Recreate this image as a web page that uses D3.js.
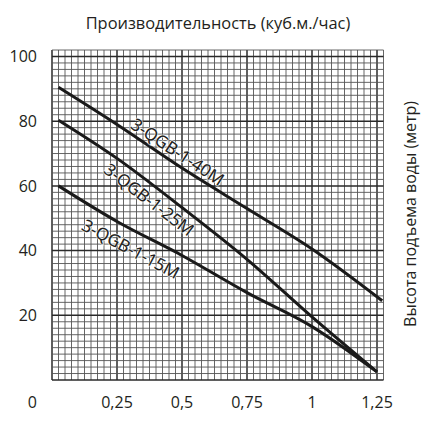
<!DOCTYPE html>
<html lang="ru">

<head>
    <meta charset="UTF-8">
    <title>QGB</title>
    <script src="https://cdn.jsdelivr.net/npm/d3@7"></script>
    <style>
        body {
            margin: 0;
            background: #fff;
        }

        text {
            font-family: "Open Sans", sans-serif;
            fill: #231f20;
        }
    </style>
</head>

<body>
    <script>
        // flow, m3/h
        const flow = [0.025, 0.25, 0.5, 0.75, 1, 1.25];
        const flow40 = [0.025, 0.25, 0.5, 0.75, 1, 1.27];
        // head, m
        const head40M = [90.5, 79, 65.5, 53, 40.5, 24.5];
        const head25M = [80.3, 68.5, 53.3, 37.3, 19.5, 2.5];
        const head15M = [60, 49, 38.5, 27, 16.5, 2.5];
        const seriesNames = ["3-QGB-1-40M", "3-QGB-1-25M", "3-QGB-1-15M"];

        const xTicks = [0.25, 0.5, 0.75, 1, 1.25];
        const yTicks = [20, 40, 60, 80, 100];
        const xTitle = "Производительность (куб.м./час)";
        const yTitle = "Высота подъема воды (метр)";

        const width = 440;
        const height = 440;

        const x = d3.scaleLinear().domain([0, 1.275]).range([52, 383.5]);
        const y = d3.scaleLinear().domain([0, 102]).range([380, 50]);

        const svg = d3.select("body").append("svg")
            .attr("width", width).attr("height", height);

        // grid: minor every 0.025 / 2 m, major every 0.25 / 20 m
        const grid = svg.append("g");
        const xIdx = d3.range(0, 52);
        const yIdx = d3.range(0, 52);

        grid.selectAll(".gx")
            .data(xIdx)
            .join("line")
            .attr("x1", i => x(i * 0.025)).attr("x2", i => x(i * 0.025))
            .attr("y1", y(102)).attr("y2", y(0))
            .attr("stroke", i => i % 10 === 0 ? "#2a2a2a" : "#555")
            .attr("stroke-width", i => i % 10 === 0 ? 1.5 : 0.9);

        grid.selectAll(".gy")
            .data(yIdx)
            .join("line")
            .attr("y1", i => y(i * 2)).attr("y2", i => y(i * 2))
            .attr("x1", x(0)).attr("x2", x(1.275))
            .attr("stroke", i => i % 10 === 0 ? "#2a2a2a" : "#555")
            .attr("stroke-width", i => i % 10 === 0 ? 1.5 : 0.9);

        // curves
        const series = [
            { name: seriesNames[0], xs: flow40, ys: head40M },
            { name: seriesNames[1], xs: flow, ys: head25M },
            { name: seriesNames[2], xs: flow, ys: head15M },
        ].map(s => ({ ...s, pts: s.xs.map((v, i) => [v, s.ys[i]]) }));

        const line = d3.line()
            .x(d => x(d[0]))
            .y(d => y(d[1]))
            .curve(d3.curveMonotoneX);

        svg.append("g")
            .selectAll("path")
            .data(series)
            .join("path")
            .attr("d", d => line(d.pts))
            .attr("fill", "none")
            .attr("stroke", "#1a1a1a")
            .attr("stroke-width", 3);

        // labels along the curves
        const labelAt = [0.46, 0.405, 0.335];
        const labelDy = [-5, 19.5, 24];

        const headAt = (s, v) => {
            const f = d3.scaleLinear().domain(s.xs).range(s.ys);
            return f(v);
        };

        const labels = svg.append("g")
            .selectAll("g")
            .data(series)
            .join("g")
            .attr("transform", (d, i) => {
                const v = labelAt[i];
                const px = x(v), py = y(headAt(d, v));
                const a = Math.atan2(y(headAt(d, v + 0.1)) - y(headAt(d, v - 0.1)),
                    x(v + 0.1) - x(v - 0.1)) * 180 / Math.PI;
                return `translate(${px},${py}) rotate(${a})`;
            });

        // white halo so the grid does not cut the letters
        labels.append("text")
            .attr("dy", (d, i) => labelDy[i])
            .attr("text-anchor", "middle")
            .attr("font-size", 17)
            .attr("stroke", "#fff")
            .attr("stroke-width", 2)
            .attr("stroke-opacity", 0.6)
            .text(d => d.name);

        labels.append("text")
            .attr("dy", (d, i) => labelDy[i])
            .attr("text-anchor", "middle")
            .attr("font-size", 17)
            .text(d => d.name);

        // tick labels
        svg.append("g")
            .selectAll("text")
            .data(yTicks)
            .join("text")
            .attr("x", 37)
            .attr("y", d => y(d))
            .attr("dy", "0.36em")
            .attr("text-anchor", "end")
            .attr("font-size", 16)
            .text(d => d);

        const fmt = d => String(d).replace(".", ",");
        svg.append("g")
            .selectAll("text")
            .data(xTicks)
            .join("text")
            .attr("x", d => x(d))
            .attr("y", 408)
            .attr("text-anchor", "middle")
            .attr("font-size", 16)
            .text(fmt);

        svg.append("text")
            .attr("x", 37).attr("y", 408)
            .attr("text-anchor", "end")
            .attr("font-size", 16)
            .text("0");

        // titles
        svg.append("text")
            .attr("x", 218).attr("y", 29)
            .attr("text-anchor", "middle")
            .attr("font-size", 16.4)
            .text(xTitle);

        svg.append("text")
            .attr("transform", "translate(415.5,214) rotate(-90)")
            .attr("text-anchor", "middle")
            .attr("font-size", 16)
            .text(yTitle);
    </script>
</body>

</html>
